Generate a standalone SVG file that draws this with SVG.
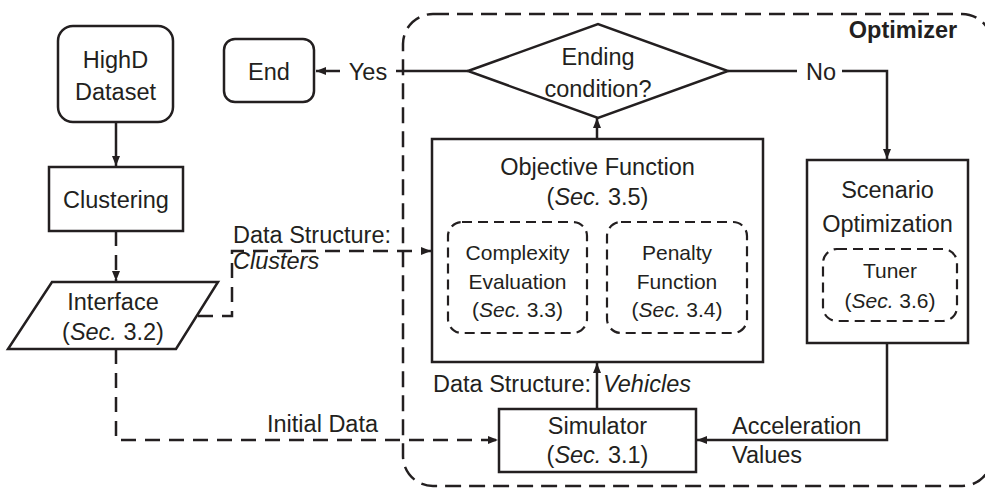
<svg xmlns="http://www.w3.org/2000/svg" width="985" height="488" viewBox="0 0 985 488">
<style>
text{font-family:"Liberation Sans",Arial,Helvetica,sans-serif;font-size:23.5px;fill:#231f20;text-anchor:middle}
.s{font-size:21px}
.l{text-anchor:start}
.b{font-weight:bold}
.box{fill:#fff;stroke:#231f20;stroke-width:2.5}
.dbox{fill:none;stroke:#231f20;stroke-width:2.2;stroke-dasharray:10 6}
.bound{fill:none;stroke:#231f20;stroke-width:2.5;stroke-dasharray:16 8}
.c{fill:none;stroke:#231f20;stroke-width:2.5}
.cd{fill:none;stroke:#231f20;stroke-width:2.5;stroke-dasharray:15 9}
</style>
<defs>
<marker id="ah" markerUnits="userSpaceOnUse" markerWidth="10" markerHeight="8" refX="10" refY="4" orient="auto">
<path d="M0,0 L10,4 L0,8 z" fill="#231f20"/>
</marker>
</defs>
<g id="optimizer">
<rect class="bound" x="403" y="14" width="589" height="472" rx="30"/>
<text class="b" x="903" y="38">Optimizer</text>
</g>
<g id="connectors">
<path class="c" d="M116,122 V166" marker-end="url(#ah)"/>
<path class="cd" d="M116,231 V281" marker-end="url(#ah)"/>
<path class="cd" d="M198,316 H232 V251 H431" marker-end="url(#ah)"/>
<path class="cd" d="M116,349 V440 H498" marker-end="url(#ah)"/>
<path class="c" d="M468,71 H396"/>
<path class="c" d="M340,71 H316" marker-end="url(#ah)"/>
<path class="c" d="M728,71 H797"/>
<path class="c" d="M842,71 H887 V159" marker-end="url(#ah)"/>
<path class="c" d="M597,139 V118" marker-end="url(#ah)"/>
<path class="c" d="M597,409 V363" marker-end="url(#ah)"/>
<path class="c" d="M887,343 V440 H697" marker-end="url(#ah)"/>
<text x="368" y="80">Yes</text>
<text x="821" y="80">No</text>
<text class="l" x="233" y="243">Data Structure:</text>
<text class="l" x="233" y="269" font-style="italic">Clusters</text>
<text class="l" x="267" y="432">Initial Data</text>
<text x="512" y="392" text-anchor="middle">Data Structure:</text>
<text class="l" x="603" y="392" font-style="italic">Vehicles</text>
<text class="l" x="732" y="434">Acceleration</text>
<text class="l" x="732" y="463">Values</text>
</g>
<g id="highd">
<rect class="box" x="58" y="26" width="115" height="96" rx="15"/>
<text x="115.5" y="68">HighD</text>
<text x="115.5" y="100">Dataset</text>
</g>
<g id="clustering">
<rect class="box" x="49" y="167" width="134" height="64"/>
<text x="116" y="208">Clustering</text>
</g>
<g id="interface">
<polygon class="box" points="52,282 218,282 176,349 8,349"/>
<text x="113" y="310">Interface</text>
<text x="113" y="340">(<tspan font-style="italic">Sec.</tspan> 3.2)</text>
</g>
<g id="end">
<rect class="box" x="224" y="39" width="90" height="63" rx="11"/>
<text x="269" y="80">End</text>
</g>
<g id="ending-condition">
<polygon class="box" points="468,71 598,24 728,71 598,118"/>
<text x="598" y="65">Ending</text>
<text x="598" y="97">condition?</text>
</g>
<g id="objective-function">
<rect class="box" x="432" y="139" width="331" height="223"/>
<text x="597.5" y="175">Objective Function</text>
<text x="597.5" y="205">(<tspan font-style="italic">Sec.</tspan> 3.5)</text>
</g>
<g id="complexity-evaluation">
<rect class="dbox" x="448" y="222" width="139" height="111" rx="14"/>
<text class="s" x="517.5" y="260">Complexity</text>
<text class="s" x="517.5" y="289">Evaluation</text>
<text class="s" x="517.5" y="317">(<tspan font-style="italic">Sec.</tspan> 3.3)</text>
</g>
<g id="penalty-function">
<rect class="dbox" x="607" y="222" width="140" height="111" rx="14"/>
<text class="s" x="677" y="260">Penalty</text>
<text class="s" x="677" y="289">Function</text>
<text class="s" x="677" y="317">(<tspan font-style="italic">Sec.</tspan> 3.4)</text>
</g>
<g id="scenario-optimization">
<rect class="box" x="807" y="160" width="161" height="183"/>
<text x="887.5" y="198">Scenario</text>
<text x="887.5" y="232">Optimization</text>
</g>
<g id="tuner">
<rect class="dbox" x="823" y="249" width="134" height="72" rx="14"/>
<text class="s" x="890" y="278">Tuner</text>
<text class="s" x="890" y="308">(<tspan font-style="italic">Sec.</tspan> 3.6)</text>
</g>
<g id="simulator">
<rect class="box" x="499" y="409" width="197" height="63"/>
<text x="597.5" y="434">Simulator</text>
<text x="597.5" y="463">(<tspan font-style="italic">Sec.</tspan> 3.1)</text>
</g>
</svg>
